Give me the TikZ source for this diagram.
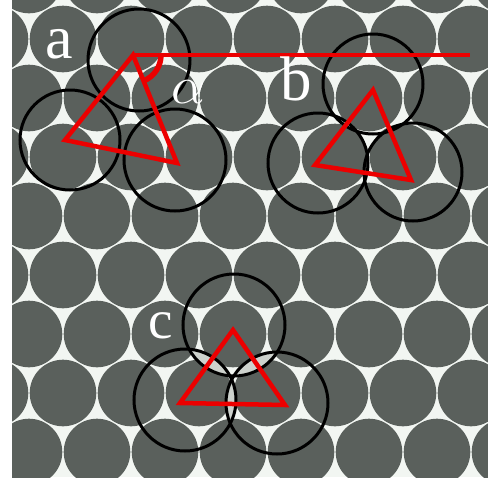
\documentclass[tikz,border=0pt]{standalone}
\usepackage{fontspec}
\setmainfont{Liberation Serif}
\definecolor{ball}{RGB}{90,96,92}
\definecolor{gapc}{RGB}{242,246,242}
\definecolor{redl}{RGB}{236,0,0}
\definecolor{lensc}{RGB}{205,210,205}
\tikzset{
  bcirc/.style={draw=black, line width=3pt},
  redtri/.style={draw=redl, line width=4.5pt},
  lbl/.style={text=white, inner sep=0pt, anchor=base},
}
\begin{document}
\begin{tikzpicture}[x=1pt,y=-1pt]
\useasboundingbox (0,0) rectangle (488,483);
\fill[white] (0,0) rectangle (488,483);
% close-packed background
\begin{scope}
  \clip (12,0) rectangle (488,477);
  \fill[gapc] (12,0) rectangle (488,477);
  \foreach \k in {-5,...,3} {
    \pgfmathsetmacro\yy{275+59*\k}
    \pgfmathsetmacro\off{-5+34*mod(abs(\k),2)}
    \foreach \j in {0,...,8} {
      \fill[ball] ({\off+68*\j},\yy) circle[radius=33.3pt];
    }
  }
\end{scope}
% group a
\coordinate (ca1) at (139,60);
\coordinate (ca2) at (70,140);
\coordinate (ca3) at (175,160);
\draw[bcirc] (ca1) circle[radius=51pt];
\draw[bcirc] (ca2) circle[radius=50pt];
\draw[bcirc] (ca3) circle[radius=51pt];
% group b
\coordinate (cb1) at (373,84);
\coordinate (cb2) at (318,163);
\coordinate (cb3) at (413,172);
\draw[bcirc] (cb1) circle[radius=50pt];
\draw[bcirc] (cb2) circle[radius=50pt];
\draw[bcirc] (cb3) circle[radius=49pt];
% group c with lenses
\coordinate (cc1) at (234,325);
\coordinate (cc2) at (185,400);
\coordinate (cc3) at (277,403);
\begin{scope}
  \clip (cc1) circle[radius=51pt];
  \fill[lensc] (cc2) circle[radius=51pt];
  \fill[lensc] (cc3) circle[radius=51pt];
\end{scope}
\begin{scope}
  \clip (cc2) circle[radius=51pt];
  \fill[lensc] (cc3) circle[radius=51pt];
\end{scope}
\draw[bcirc] (cc1) circle[radius=51pt];
\draw[bcirc] (cc2) circle[radius=51pt];
\draw[bcirc] (cc3) circle[radius=51pt];
% red triangles
\coordinate (ta1) at (133,55);
\coordinate (ta2) at (65,140);
\coordinate (ta3) at (177,163);
\coordinate (lineend) at (470,55);
\coordinate (arcstart) at (161,55);
\draw[redtri] (ta1) -- (ta2) -- (ta3) -- cycle;
\draw[redtri] (ta1) -- (lineend);
\draw[draw=redl, line width=5.5pt] (arcstart) arc[start angle=0, end angle=-67, radius=28pt];
\coordinate (tb1) at (373,90);
\coordinate (tb2) at (315,165);
\coordinate (tb3) at (411,180);
\draw[redtri] (tb1) -- (tb2) -- (tb3) -- cycle;
\coordinate (tc1) at (233,330);
\coordinate (tc2) at (180,403);
\coordinate (tc3) at (285,405);
\draw[redtri] (tc1) -- (tc2) -- (tc3) -- cycle;
% labels
\node[lbl, font=\fontsize{62}{62}\selectfont] (la) at (59,58) {a};
\node[lbl, font=\fontsize{63}{63}\selectfont] (lb) at (296,100) {b};
\node[lbl, font=\fontsize{55}{55}\selectfont] (lc) at (161,338) {c};
\node[lbl] (lal) at (189,103) {\scalebox{5.3}{$\alpha$}};
\end{tikzpicture}
\end{document}
